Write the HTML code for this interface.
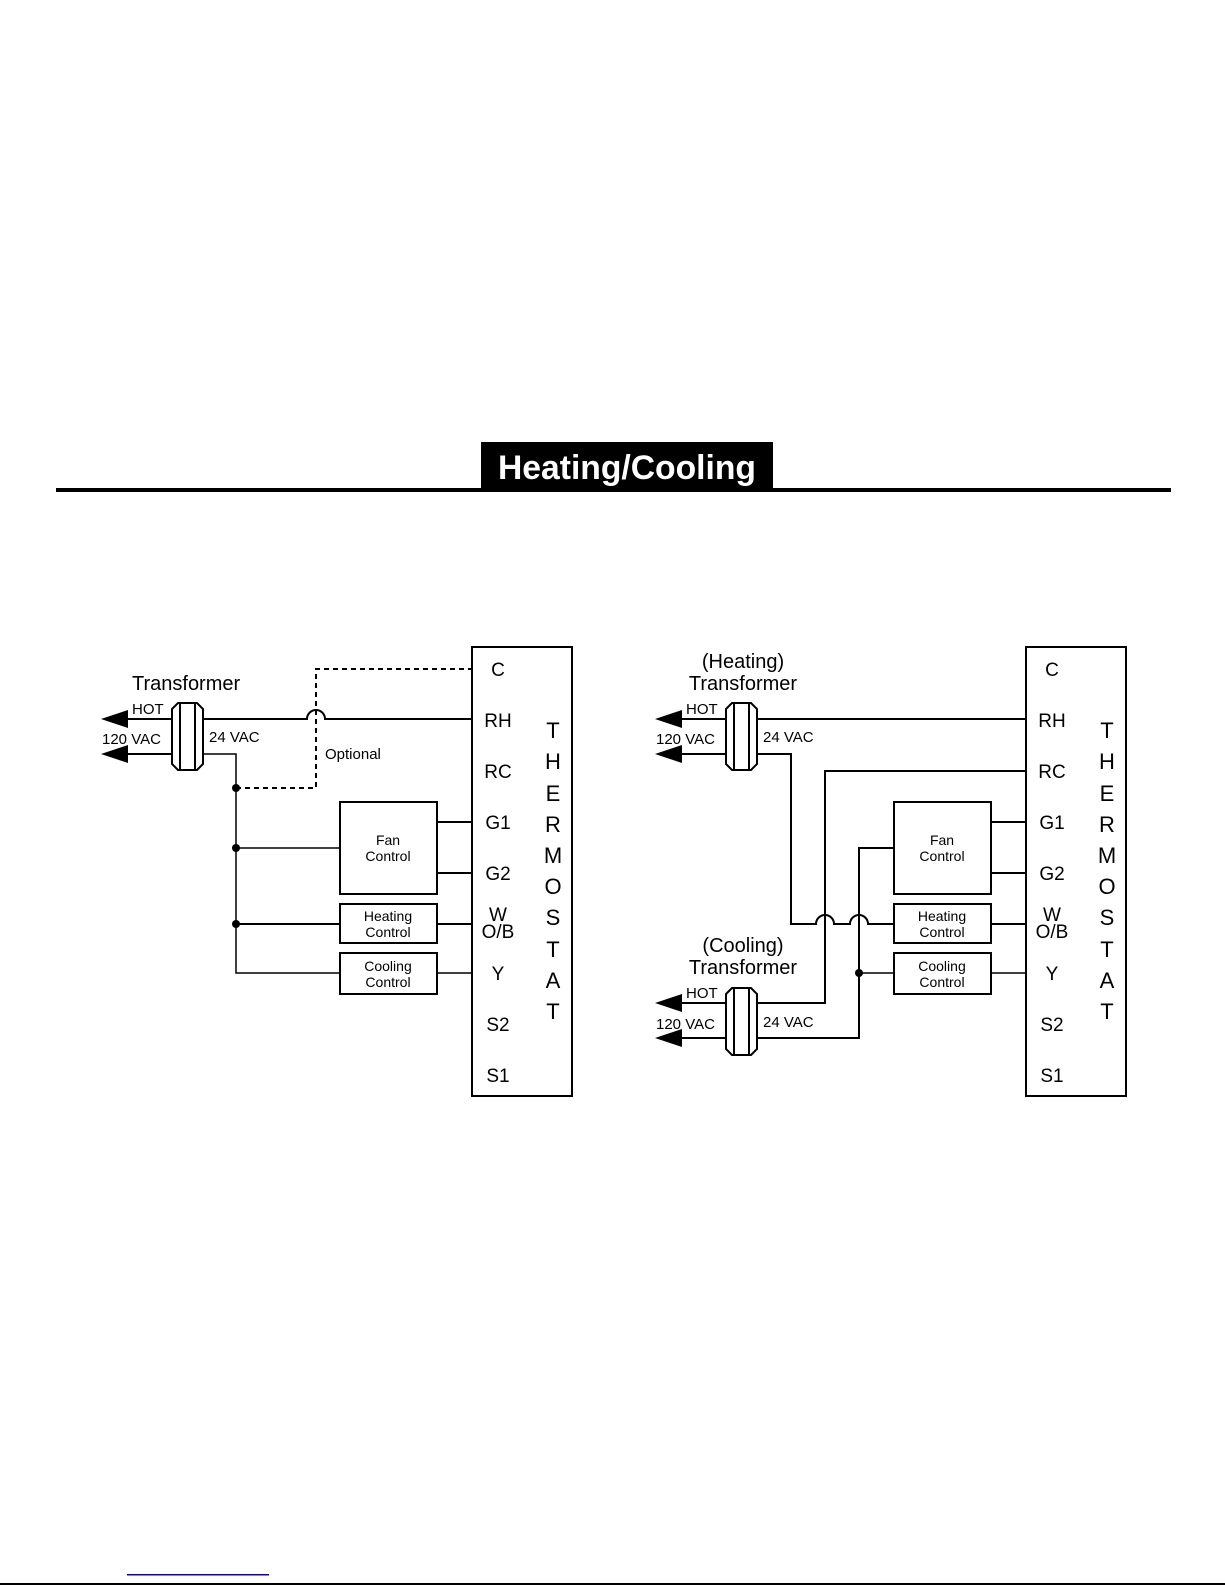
<!DOCTYPE html>
<html><head><meta charset="utf-8"><style>
html,body{margin:0;padding:0;background:#fff;}
svg{display:block;}
text{font-family:"Liberation Sans",Arial,sans-serif;fill:#000;}
</style></head><body>
<svg width="1225" height="1585" viewBox="0 0 1225 1585" xmlns="http://www.w3.org/2000/svg">
<!-- Title -->
<rect x="481" y="442" width="292" height="47" fill="#000"/>
<text x="627" y="479" font-size="34" font-weight="bold" text-anchor="middle" style="fill:#fff" textLength="258" lengthAdjust="spacingAndGlyphs">Heating/Cooling</text>
<rect x="56" y="488" width="1115" height="4" fill="#000"/>
<!-- bottom -->
<rect x="127" y="1574" width="142" height="1.5" fill="#0000cc"/>
<rect x="0" y="1583" width="1225" height="2" fill="#000"/>

<defs>
<g id="xf">
  <path d="M0,6 L6,0 L25,0 L31,6 L31,61 L25,67 L6,67 L0,61 Z" fill="#fff" stroke="#000" stroke-width="2"/>
  <line x1="8" y1="0" x2="8" y2="67" stroke="#000" stroke-width="2"/>
  <line x1="23" y1="0" x2="23" y2="67" stroke="#000" stroke-width="2"/>
</g>
<g id="tstat">
  <rect x="0" y="0" width="100" height="449" fill="#fff" stroke="#000" stroke-width="2"/>
  <g font-size="19" text-anchor="middle">
    <text x="26" y="29">C</text>
    <text x="26" y="80">RH</text>
    <text x="26" y="131">RC</text>
    <text x="26" y="182">G1</text>
    <text x="26" y="233">G2</text>
    <text x="26" y="274">W</text>
    <text x="26" y="291">O/B</text>
    <text x="26" y="333">Y</text>
    <text x="26" y="384">S2</text>
    <text x="26" y="435">S1</text>
  </g>
  <g font-size="22" text-anchor="middle">
    <text x="81" y="91">T</text><text x="81" y="122">H</text><text x="81" y="154">E</text>
    <text x="81" y="185">R</text><text x="81" y="216">M</text><text x="81" y="247">O</text>
    <text x="81" y="278">S</text><text x="81" y="310">T</text><text x="81" y="341">A</text>
    <text x="81" y="372">T</text>
  </g>
</g>
<g id="boxes">
  <rect x="0" y="0" width="97" height="92" fill="#fff" stroke="#000" stroke-width="2"/>
  <text x="48" y="43" font-size="14" text-anchor="middle">Fan</text>
  <text x="48" y="59" font-size="14" text-anchor="middle">Control</text>
  <rect x="0" y="102" width="97" height="39" fill="#fff" stroke="#000" stroke-width="2"/>
  <text x="48" y="119" font-size="14" text-anchor="middle">Heating</text>
  <text x="48" y="135" font-size="14" text-anchor="middle">Control</text>
  <rect x="0" y="151" width="97" height="41" fill="#fff" stroke="#000" stroke-width="2"/>
  <text x="48" y="169" font-size="14" text-anchor="middle">Cooling</text>
  <text x="48" y="185" font-size="14" text-anchor="middle">Control</text>
</g>
<polygon id="arr" points="0,0 27,-9 27,9" fill="#000"/>
</defs>

<!-- LEFT DIAGRAM -->
<g stroke="#000" fill="none">
  <line x1="120" y1="719" x2="172" y2="719" stroke-width="2"/>
  <line x1="120" y1="754" x2="172" y2="754" stroke-width="2"/>
  <path d="M203,719 H307 A9,9 0 0 1 325,719 H472" stroke-width="2"/>
  <path d="M203,754 H236 V973 H472" stroke-width="1.5"/>
  <path d="M236,788 H316 V669 H472" stroke-width="2" stroke-dasharray="5,4"/>
  <line x1="236" y1="848" x2="340" y2="848" stroke-width="1.5"/>
  <line x1="236" y1="924" x2="472" y2="924" stroke-width="2"/>
  <line x1="437" y1="822" x2="472" y2="822" stroke-width="2"/>
  <line x1="437" y1="873" x2="472" y2="873" stroke-width="2"/>
</g>
<use href="#arr" x="101" y="719"/>
<use href="#arr" x="101" y="754"/>
<use href="#xf" x="172" y="703"/>
<circle cx="236" cy="788" r="4"/><circle cx="236" cy="848" r="4"/><circle cx="236" cy="924" r="4"/>
<use href="#boxes" x="340" y="802"/>
<use href="#tstat" x="472" y="647"/>
<text x="132" y="690" font-size="20">Transformer</text>
<text x="132" y="714" font-size="15">HOT</text>
<text x="102" y="744" font-size="15">120 VAC</text>
<text x="209" y="742" font-size="15">24 VAC</text>
<text x="325" y="759" font-size="15">Optional</text>

<!-- RIGHT DIAGRAM -->
<g stroke="#000" fill="none">
  <line x1="675" y1="719" x2="726" y2="719" stroke-width="2"/>
  <line x1="675" y1="754" x2="726" y2="754" stroke-width="2"/>
  <line x1="675" y1="1003" x2="726" y2="1003" stroke-width="2"/>
  <line x1="675" y1="1038" x2="726" y2="1038" stroke-width="2"/>
  <line x1="757" y1="719" x2="1026" y2="719" stroke-width="2"/>
  <path d="M757,754 H791 V924 H816 A9,9 0 0 1 834,924 H850 A9,9 0 0 1 868,924 H894" stroke-width="2"/>
  <path d="M1026,771 H825 V1003 H757" stroke-width="2"/>
  <path d="M894,848 H859 V1038 H757" stroke-width="2"/>
  <line x1="859" y1="973" x2="1026" y2="973" stroke-width="1.5"/>
  <line x1="991" y1="924" x2="1026" y2="924" stroke-width="2"/>
  <line x1="991" y1="822" x2="1026" y2="822" stroke-width="2"/>
  <line x1="991" y1="873" x2="1026" y2="873" stroke-width="2"/>
</g>
<use href="#arr" x="655" y="719"/>
<use href="#arr" x="655" y="754"/>
<use href="#arr" x="655" y="1003"/>
<use href="#arr" x="655" y="1038"/>
<use href="#xf" x="726" y="703"/>
<use href="#xf" x="726" y="988"/>
<circle cx="859" cy="973" r="4"/>
<use href="#boxes" x="894" y="802"/>
<use href="#tstat" x="1026" y="647"/>
<text x="743" y="668" font-size="20" text-anchor="middle">(Heating)</text>
<text x="743" y="690" font-size="20" text-anchor="middle">Transformer</text>
<text x="686" y="714" font-size="15">HOT</text>
<text x="656" y="744" font-size="15">120 VAC</text>
<text x="763" y="742" font-size="15">24 VAC</text>
<text x="743" y="952" font-size="20" text-anchor="middle">(Cooling)</text>
<text x="743" y="974" font-size="20" text-anchor="middle">Transformer</text>
<text x="686" y="998" font-size="15">HOT</text>
<text x="656" y="1029" font-size="15">120 VAC</text>
<text x="763" y="1027" font-size="15">24 VAC</text>
</svg>
</body></html>
